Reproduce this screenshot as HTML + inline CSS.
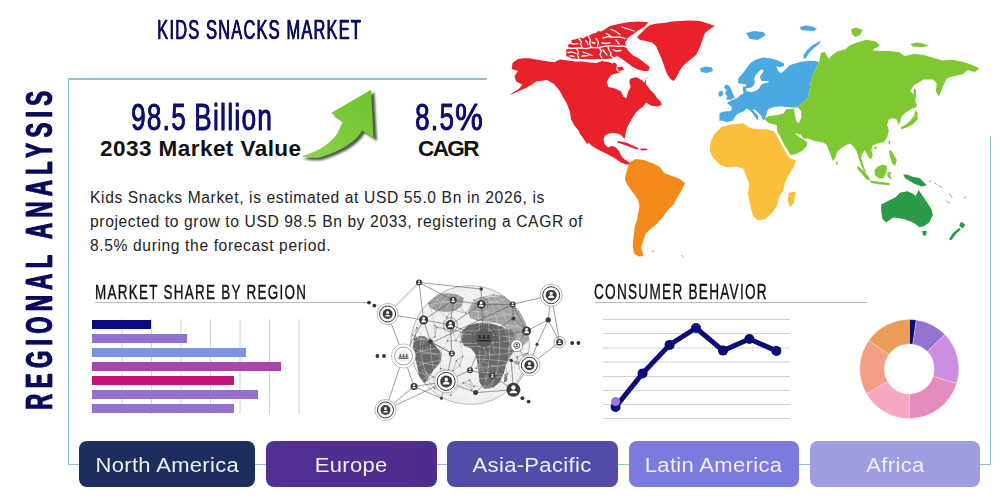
<!DOCTYPE html>
<html><head><meta charset="utf-8">
<style>
*{margin:0;padding:0;box-sizing:border-box}
html,body{width:1000px;height:500px;background:#fff;overflow:hidden;font-family:"Liberation Sans",sans-serif}
.a{position:absolute;white-space:nowrap}
.ln{position:absolute;background:#90c2d4}
.cond{transform-origin:0 0;display:inline-block}
.btn{position:absolute;top:441px;height:46px;border-radius:8px;color:#eef0fa;font-size:20px;text-align:center;line-height:48px;letter-spacing:0.3px}
.btn span{display:inline-block;transform:scaleX(1.1);transform-origin:50% 50%}
</style></head><body>

<!--MAP-->
<svg class="a" style="left:0;top:0" width="1000" height="500" id="map">
<g fill="#e8212b">
<polygon points="512.6,62.7 518.0,59.1 523.4,58.2 528.8,58.2 545.0,60.9 554.0,62.2 560.0,59.5 567.8,60.5 575.0,61.5 583.0,61.5 590.0,62.5 596.4,63.1 602.0,61.0 605.5,61.8 609.0,62.0 612.0,63.4 615.0,62.5 617.0,65.0 616.0,70.0 620.0,72.5 626.0,73.0 632.0,74.0 640.0,75.0 649.0,74.5 648.8,75.8 646.0,79.0 646.0,84.2 650.2,89.8 654.4,94.0 657.2,98.2 660.0,101.0 662.0,104.5 658.0,106.6 653.0,106.0 650.2,105.2 646.0,102.4 643.2,106.6 639.0,109.5 636.0,112.5 633.0,117.0 630.0,122.0 627.5,127.0 626.0,131.0 625.5,135.0 624.5,139.0 622.0,136.0 619.0,134.0 614.0,133.0 609.0,133.5 605.0,135.5 603.5,139.0 604.5,144.0 608.0,147.5 612.0,146.0 616.0,147.5 619.0,151.0 621.0,155.5 624.0,159.0 628.0,161.5 631.0,164.5 626.0,164.5 621.0,162.5 616.0,159.0 610.0,155.5 604.0,152.5 598.0,149.5 592.0,146.0 587.0,141.0 582.0,135.0 578.0,130.0 574.0,125.0 571.0,119.0 570.0,112.0 567.0,104.0 563.0,97.0 559.4,90.6 554.0,84.0 547.0,80.0 540.0,81.0 536.0,81.6 530.6,85.2 526.0,88.0 520.0,90.5 514.0,93.2 509.5,95.2 513.0,92.6 518.5,89.2 521.0,86.5 522.0,84.5 516.2,81.6 514.4,76.2 518.0,71.0 511.7,69.0"/>
<polygon points="579.0,130.0 582.0,133.0 586.0,139.0 589.0,143.0 587.0,144.0 583.0,138.0 580.0,134.0"/>
<polygon points="618.0,141.0 626.0,142.5 634.0,146.0 639.0,148.5 637.0,149.5 630.0,147.0 622.0,144.0 617.0,142.5"/>
<polygon points="640.0,148.5 646.0,148.5 648.0,150.0 641.0,150.5"/>
</g>
<g fill="#fff">
<polygon points="611.0,75.0 606.8,81.4 608.2,87.0 615.2,88.4 620.8,91.2 623.6,96.8 626.4,98.2 627.8,92.6 630.6,87.0 629.2,81.4 630.6,78.6 636.2,77.2 641.8,80.0 644.6,82.8 646.0,78.6 649.5,75.5 648.0,73.5 642.0,73.0 636.0,72.5 630.0,71.0 626.0,70.0 623.0,72.0 618.0,73.0"/>
</g>
<g fill="#e8212b">
<polygon points="637.0,37.0 641.0,33.0 646.0,28.0 650.0,25.0 657.0,23.5 664.0,23.0 672.0,21.5 680.0,21.0 690.0,20.5 700.0,21.0 708.0,23.5 715.0,26.0 710.0,29.0 705.0,33.0 703.0,38.0 701.0,44.0 699.0,49.0 696.0,55.0 691.0,59.0 686.0,63.0 682.0,67.0 679.0,72.0 676.0,78.0 673.5,81.0 670.5,79.0 667.0,74.0 664.5,67.0 662.0,60.0 659.0,53.0 656.0,46.0 652.0,42.5 646.0,41.0 640.0,40.0"/>
<polygon points="566.3,50.0 568.5,47.0 567.5,45.0 570.0,44.0 572.0,41.5 571.0,40.0 575.0,39.5 580.0,37.5 583.0,38.5 586.0,36.5 590.0,35.0 593.0,33.5 596.0,33.0 598.0,31.0 601.0,31.5 604.0,30.0 606.0,28.5 610.0,26.0 618.5,24.1 627.6,22.2 638.0,21.5 648.4,22.2 644.5,26.7 638.0,30.6 632.8,34.5 627.6,38.0 625.0,43.0 627.6,50.0 632.8,55.3 638.0,57.9 643.2,61.8 649.7,67.0 648.4,70.9 643.2,70.9 638.0,69.6 632.8,67.0 627.6,63.1 622.4,59.2 617.2,56.0 612.0,58.5 606.0,59.0 598.0,59.0 590.0,59.3 580.0,59.0 572.0,58.5 566.3,56.0"/>
<polygon points="617.0,67.5 622.0,66.5 624.0,69.5 619.0,71.5"/>
</g>
<g fill="#f48a1b">
<polygon points="630.0,162.0 636.0,159.0 644.0,160.0 652.0,163.0 660.0,167.0 664.0,173.0 672.0,176.0 680.0,179.0 685.0,183.0 682.0,190.0 678.0,196.0 674.0,204.0 668.0,210.0 662.0,218.0 656.0,224.5 650.0,229.6 646.0,233.2 643.6,239.2 641.2,247.6 643.6,256.0 638.8,256.6 634.0,253.6 632.8,246.4 633.4,238.0 634.6,227.2 637.0,220.0 638.0,214.0 639.5,206.0 638.0,200.0 634.0,194.0 628.0,186.0 625.0,180.0 625.5,175.0 627.0,170.0 628.5,165.0"/>
</g>
<g fill="#4aa9e1">
<polygon points="719.5,121.0 719.5,113.0 724.0,111.5 731.0,111.0 732.0,107.0 727.0,103.2 730.0,101.0 737.5,98.0 740.5,95.0 743.5,93.5 743.0,90.0 742.7,86.7 745.5,86.5 746.5,84.5 742.0,84.0 738.2,83.2 738.2,78.4 743.8,72.0 747.8,66.4 751.0,62.4 755.5,59.7 763.0,57.5 770.5,58.2 778.0,60.5 784.0,63.5 784.0,65.7 781.0,67.2 776.5,66.5 778.0,71.0 781.0,73.2 785.5,69.5 790.0,65.0 795.0,63.5 801.0,61.8 810.0,60.7 816.0,61.0 819.0,62.5 815.2,70.1 811.4,77.7 809.5,91.0 807.6,99.0 806.2,99.2 802.0,103.4 797.8,106.2 792.2,107.6 786.0,107.0 781.0,106.2 774.0,106.9 768.4,109.0 767.0,112.0 766.7,113.0 766.0,116.0 764.5,119.0 763.0,120.5 761.5,116.0 758.5,113.0 755.5,110.0 752.5,109.2 755.5,113.0 758.5,116.0 757.7,120.5 755.5,117.5 752.5,113.0 749.5,110.0 746.5,108.5 743.5,111.5 739.0,113.0 735.2,116.0 733.0,120.5 727.0,122.0 721.0,120.5"/>
<polygon points="725.5,84.5 729.0,85.5 731.0,89.0 732.5,93.0 734.5,97.5 731.0,99.8 726.0,99.8 727.5,96.5 725.0,93.5 726.5,90.0 724.0,87.5"/>
<polygon points="719.0,91.5 722.5,90.8 723.5,94.5 720.0,97.0 718.3,95.0"/>
<polygon points="700.0,68.0 706.0,66.5 712.0,67.5 713.0,71.0 707.0,73.0 701.0,72.0"/>
<polygon points="746.0,33.0 754.0,31.0 763.0,32.0 766.0,35.0 758.0,40.0 750.0,39.0"/>
<polygon points="803.0,58.5 804.0,54.0 808.0,49.0 813.0,45.0 818.0,42.0 821.0,41.0 819.0,44.0 814.0,48.0 809.0,53.0 806.0,58.0"/>
<polygon points="800.0,27.0 806.0,25.5 812.0,26.5 817.0,28.5 814.0,31.0 806.0,30.5 801.0,30.0"/>
</g>
<g fill="#fff">
<polygon points="761.4,69.2 763.8,70.4 762.2,73.6 760.0,76.0 760.6,79.2 761.4,81.0 768.6,81.0 768.6,82.2 763.0,83.5 760.6,85.6 759.0,88.8 755.0,91.2 751.0,92.0 747.0,91.2 745.5,89.0 748.0,88.0 751.5,87.5 753.5,85.6 755.0,82.4 754.2,79.2 755.0,76.0 758.0,72.5"/>
</g>
<g fill="#fbc03b">
<polygon points="721.6,126.8 731.2,124.4 743.2,123.2 750.4,128.0 757.6,129.2 767.2,129.2 774.0,131.4 776.0,134.2 779.6,141.2 785.2,151.0 789.4,158.0 796.0,160.4 793.6,167.6 788.8,174.8 785.2,182.0 782.8,191.6 779.2,196.4 776.8,206.0 772.0,213.2 764.8,219.2 757.6,220.4 752.8,215.6 750.4,206.0 748.0,194.0 749.2,184.4 745.6,174.8 743.2,168.8 736.0,166.4 726.4,167.6 719.2,164.0 713.2,158.0 709.6,150.8 710.8,141.2 714.4,134.0"/>
<polygon points="788.8,192.8 796.0,191.6 793.6,203.6 790.0,207.2 787.6,201.2"/>
</g>
<g fill="#80c833">
<polygon points="819.0,62.5 820.9,53.0 824.7,52.0 828.5,58.7 832.3,55.0 838.0,51.1 845.6,49.2 849.4,45.4 857.0,42.6 866.5,39.7 876.0,41.6 879.8,45.4 872.2,50.2 879.8,51.1 889.3,51.1 898.8,52.0 904.5,55.9 914.0,54.0 923.5,54.9 933.0,57.8 942.5,60.6 952.0,59.7 961.5,61.6 971.0,64.4 979.6,68.2 974.8,72.0 967.2,70.1 963.4,73.9 955.8,75.8 948.2,77.7 946.3,79.6 942.5,87.2 938.7,96.7 935.9,91.0 936.8,83.4 933.0,79.6 923.5,79.6 914.0,85.3 910.2,91.0 914.0,94.8 915.9,102.4 914.0,108.0 909.6,110.0 904.8,113.2 901.6,116.4 900.0,122.8 898.4,124.4 896.8,119.6 892.0,118.0 888.8,119.6 887.2,124.4 888.8,130.8 887.2,137.2 884.0,142.0 877.6,143.6 872.8,145.2 871.2,150.0 872.8,154.8 871.2,159.6 868.0,156.4 864.8,150.0 862.0,154.0 861.0,158.0 863.2,164.4 864.8,169.2 866.4,172.4 864.0,171.0 861.0,165.0 859.2,160.0 856.8,151.6 853.6,146.8 850.4,143.6 845.6,145.2 840.8,148.4 837.6,151.6 835.2,158.0 832.8,161.2 831.2,156.4 828.8,150.0 826.4,144.4 823.0,142.6 816.0,141.2 807.6,138.4 803.4,138.4 800.6,134.2 797.8,134.2 795.0,132.8 797.8,136.0 803.4,139.5 807.6,142.6 806.2,146.8 802.0,151.0 796.4,153.8 790.8,155.2 788.0,151.0 783.8,144.0 779.6,135.6 777.5,132.0 776.8,128.6 776.8,125.0 768.4,123.0 764.2,118.8 768.4,116.0 776.8,115.3 783.8,113.2 786.6,109.0 792.2,109.0 793.6,108.0 797.8,106.2 802.0,103.4 806.2,99.2 807.6,99.0 809.5,91.0 811.4,77.7 815.2,70.1"/>
<polygon points="916.0,110.0 917.6,113.0 917.6,119.6 912.8,124.4 906.4,127.6 901.6,129.2 900.5,127.5 905.0,125.0 910.0,121.0 914.0,116.0 915.0,112.0"/>
<polygon points="914.0,103.0 917.0,104.0 916.0,108.0 913.0,107.0"/>
<polygon points="914.0,88.0 916.0,90.0 916.0,99.0 913.5,97.0"/>
<polygon points="851.3,29.0 856.0,27.4 862.7,30.0 860.0,35.0 855.0,36.9 852.0,34.0"/>
<polygon points="910.2,44.0 917.0,42.6 923.0,43.5 929.2,46.0 921.0,47.3 913.0,46.5"/>
<polygon points="874.4,170.0 878.0,166.5 883.0,164.4 887.2,166.0 886.5,172.0 883.0,178.8 878.0,178.0 875.0,175.0"/>
<polygon points="856.8,166.0 860.0,167.5 865.0,172.0 869.6,178.0 869.6,180.4 866.0,179.0 861.0,173.0 857.5,169.0"/>
<polygon points="869.6,180.4 878.0,181.5 886.0,182.5 890.4,183.5 889.0,185.2 880.0,184.5 871.0,183.0"/>
<polygon points="888.8,150.0 891.5,151.0 894.0,155.0 896.8,160.0 895.0,166.0 892.0,163.0 890.0,157.0"/>
<polygon points="887.2,172.4 892.0,172.0 890.0,175.0 892.0,180.4 889.0,178.0 887.5,176.0"/>
<polygon points="888.8,140.4 890.4,141.0 890.0,144.4 888.6,143.5"/>
<polygon points="874.4,146.8 876.8,146.8 876.5,149.0 874.4,149.0"/>
<polygon points="836.0,161.2 837.6,161.8 837.6,165.0 836.2,164.8"/>
</g>
<g fill="#2b9a49">
<polygon points="881.2,204.4 888.4,200.8 895.6,197.2 900.4,192.4 907.6,191.2 912.4,193.6 916.0,196.0 918.4,190.0 922.0,194.8 926.8,202.0 931.6,209.2 932.8,215.2 929.2,222.4 924.4,226.0 919.6,227.2 914.8,223.6 910.0,221.2 902.8,218.8 893.2,217.6 886.0,222.4 882.4,218.8 881.2,211.6"/>
<polygon points="922.0,230.8 926.8,231.0 926.0,235.6 923.0,235.6"/>
<polygon points="903.2,174.5 908.0,174.8 912.4,176.8 919.6,178.0 926.8,185.2 922.0,186.4 914.8,184.0 908.8,180.4 905.0,178.0"/>
<polygon points="960.4,222.4 962.0,222.0 965.2,224.8 962.8,228.4 959.2,226.0"/>
<polygon points="959.0,228.0 961.0,229.0 956.0,234.0 951.0,240.4 949.0,239.0 953.0,233.0"/>
</g>
<g fill="#fff">
<polygon points="793.6,108.5 798.0,107.6 801.0,111.0 801.5,117.0 799.0,123.0 796.0,121.0 795.0,115.0"/>
</g>
<g fill="none" stroke="#6b7f70" stroke-width="0.8" stroke-linecap="round" opacity="0.85">
<polyline points="929.0,182.0 931.0,180.5"/>
<polyline points="934.5,183.0 937.0,184.5"/>
<polyline points="939.0,185.5 942.0,187.5"/>
<polyline points="949.5,193.5 952.0,197.5"/>
<polyline points="946.5,201.0 949.5,203.5"/>
<polyline points="964.0,198.0 965.5,197.0"/>
<polyline points="652.0,251.2 654.0,251.2"/>
<polyline points="681.5,255.5 683.0,256.5"/>
</g>
<g fill="none" stroke="#fff" stroke-width="1.3" stroke-linecap="round" stroke-linejoin="round">
<polyline points="565.0,47.5 572.0,48.5 580.0,47.8 586.0,48.6 592.0,47.4 598.0,47.8 604.0,46.4 612.0,45.6 618.0,46.4 622.0,45.8 627.0,47.0"/>
<polyline points="603.0,37.8 608.0,36.6 614.0,37.4 620.0,37.0 625.0,38.6"/>
<polyline points="576.5,48.5 578.5,52.0 577.5,55.0 579.0,58.5"/>
<polyline points="599.0,47.5 601.5,51.0 600.0,54.5 602.0,58.0"/>
<polyline points="608.0,47.0 609.0,50.0 611.0,53.0 610.5,55.5 614.0,58.0"/>
<polyline points="579.0,38.5 581.5,42.0 580.5,44.5 582.0,47.0"/>
<polyline points="588.5,36.0 590.5,40.0 589.5,43.0 591.0,47.0"/>
<polyline points="596.0,38.5 598.5,42.0 597.5,46.5"/>
<polyline points="611.0,29.5 615.0,31.0 620.0,34.5"/>
<polyline points="606.0,33.5 609.0,35.0 612.0,37.5"/>
<polyline points="622.0,27.0 628.0,29.0 634.0,31.0"/>
<polyline points="568.0,52.5 572.0,52.0 576.0,53.5"/>
<polyline points="583.0,52.0 587.0,53.5 592.0,55.5"/>
<polyline points="603.0,50.0 605.0,52.5 607.0,55.0"/>
<polyline points="585.5,40.5 587.0,42.0 588.0,44.5"/>
<polyline points="616.0,40.0 617.5,42.0 619.0,44.0"/>
<polyline points="571.0,43.5 575.0,44.2 578.0,43.5"/>
<polyline points="592.0,42.5 595.0,43.2"/>
<polyline points="602.0,42.8 606.0,43.5 610.0,42.8"/>
<polyline points="613.0,49.5 616.0,51.0 621.0,50.5"/>
<polyline points="582.0,56.0 588.0,55.6"/>
<polyline points="570.0,55.8 574.0,56.4"/>
</g>
</svg>
<!--/MAP-->
<!-- frame lines -->
<div class="ln" style="left:68px;top:78.3px;width:419px;height:1.3px"></div>
<div class="ln" style="left:68px;top:79px;width:1px;height:386px"></div>
<div class="ln" style="left:68px;top:464px;width:923px;height:1px"></div>
<div class="ln" style="left:990px;top:136px;width:1px;height:329px"></div>

<!-- title -->
<div class="a" id="title" style="left:157px;top:13px;font-size:28.4px;letter-spacing:2px;color:#0e0e5e;-webkit-text-stroke:0.3px #0e0e5e;text-shadow:0.5px 0 0 #0e0e5e,1px 0 0 #0e0e5e"><span class="cond" style="transform:scaleX(0.58)">KIDS SNACKS MARKET</span></div>

<!-- vertical text -->
<div class="a" id="vtext" style="left:19px;top:410px;font-size:37px;font-weight:bold;color:#0a0a5c;letter-spacing:9px;-webkit-text-stroke:0.8px #0a0a5c;text-shadow:1.4px 0 0 #0a0a5c;transform-origin:0 0;transform:rotate(-90deg)"><span class="cond" style="transform:scaleX(0.6)">REGIONAL ANALYSIS</span></div>

<!-- stats -->
<div class="a" id="big1" style="left:131px;top:97px;font-size:37px;color:#0e0e6e;letter-spacing:2px;word-spacing:-2px;-webkit-text-stroke:0.8px #0e0e6e;text-shadow:0.6px 0 0 #0e0e6e"><span class="cond" style="transform:scaleX(0.70)">98.5 Billion</span></div>
<div class="a" id="sub1" style="left:100px;top:136px;font-size:22.5px;font-weight:bold;color:#111;letter-spacing:0.45px">2033 Market Value</div>
<div class="a" id="big2" style="left:415px;top:97px;font-size:37px;color:#0e0e6e;letter-spacing:2px;-webkit-text-stroke:0.8px #0e0e6e;text-shadow:0.6px 0 0 #0e0e6e"><span class="cond" style="transform:scaleX(0.70)">8.5<span style="display:inline-block;transform-origin:0 0;transform:scaleX(1.2)">%</span></span></div>
<div class="a" id="sub2" style="left:418px;top:136px;font-size:22.5px;font-weight:bold;color:#111;letter-spacing:-1.6px">CAGR</div>

<!-- arrow -->
<svg class="a" style="left:0;top:0" width="1000" height="500" id="arrow">
  <defs><filter id="ab" x="-20%" y="-20%" width="140%" height="140%"><feGaussianBlur stdDeviation="0.9"/></filter>
  <linearGradient id="ag" x1="0" y1="1" x2="1" y2="0"><stop offset="0" stop-color="#8fd24e"/><stop offset="1" stop-color="#6dc22c"/></linearGradient></defs>
  <path d="M303,158.7 Q327,152.5 339.5,136.5 L345.5,123.5 L334,115.5 L374.5,92.3 L377,141 L365,133.1 Q355,150.5 321,160.3 Q310,160.5 303,158.7 Z" fill="#4f5d45" filter="url(#ab)"/>
  <path d="M301.4,156.2 Q325,150 337,134 L343,121 L331,113 L371,89.8 L373.4,137.8 L362.2,130.6 Q352,148 319,157.8 Q308,158 301.4,156.2 Z" fill="url(#ag)"/>
</svg>

<!-- paragraph -->
<div class="a" id="para" style="left:90px;top:186px;font-size:15.6px;line-height:23.8px;color:#222;letter-spacing:0.63px">Kids Snacks Market, is estimated at USD 55.0 Bn in 2026, is<br>projected to grow to USD 98.5 Bn by 2033, registering a CAGR of<br>8.5% during the forecast period.</div>

<!-- section headings -->
<div class="a" id="h1" style="left:95px;top:280px;font-size:21px;color:#111;letter-spacing:2px;-webkit-text-stroke:0.4px #111"><span class="cond" style="transform:scaleX(0.64)">MARKET SHARE BY REGION</span></div>
<div class="ln" style="left:95px;top:302px;width:273px;height:1px;background:#9cc8d4"></div>
<div class="a" id="h2" style="left:594px;top:279px;font-size:22px;color:#111;letter-spacing:2px;-webkit-text-stroke:0.4px #111"><span class="cond" style="transform:scaleX(0.62)">CONSUMER BEHAVIOR</span></div>
<div class="ln" style="left:595px;top:302px;width:272px;height:1px;background:#9cc8d4"></div>

<!-- bar chart -->
<svg class="a" style="left:0;top:0" width="1000" height="500" id="bars">
  <g stroke="#d4d4d8" stroke-width="1">
    <line x1="122" y1="319" x2="122" y2="414"/><line x1="151.5" y1="319" x2="151.5" y2="414"/>
    <line x1="181" y1="319" x2="181" y2="414"/><line x1="210.5" y1="319" x2="210.5" y2="414"/>
    <line x1="240" y1="319" x2="240" y2="414"/><line x1="269.5" y1="319" x2="269.5" y2="414"/>
    <line x1="299" y1="319" x2="299" y2="414"/>
  </g>
  <rect x="92" y="320" width="59" height="9" fill="#0b0b80"/>
  <rect x="92" y="334" width="95" height="9" fill="#9471cf"/>
  <rect x="92" y="348" width="154" height="9" fill="#7d94e0"/>
  <rect x="92" y="362" width="189" height="9" fill="#a947a8"/>
  <rect x="92" y="376" width="142" height="9" fill="#c1147a"/>
  <rect x="92" y="390" width="166" height="9" fill="#9471cf"/>
  <rect x="92" y="404" width="142" height="9" fill="#9471cf"/>
</svg>

<!--GLOBE-->
<svg class="a" style="left:0;top:0" width="1000" height="500" id="globe">
<defs><clipPath id="gc"><circle cx="470.0" cy="345.0" r="59.5"/></clipPath></defs>
<circle cx="470" cy="345" r="59.5" fill="#f2f2f2" stroke="#b8b8b8" stroke-width="1"/>
<g clip-path="url(#gc)">
<polygon points="426.0,300.0 434.0,295.0 445.0,293.0 456.0,294.0 464.0,298.0 462.0,306.0 455.0,311.0 446.0,312.0 437.0,311.0 430.0,308.0" fill="#9a9a9a"/>
<polygon points="468.0,312.0 472.0,304.0 480.0,299.0 490.0,297.0 500.0,296.6 510.0,297.5 518.0,300.0 524.0,306.0 528.0,314.0 530.0,325.0 529.0,340.0 524.0,345.0 516.0,343.0 512.0,336.0 506.0,328.0 500.0,324.0 490.0,321.5 478.0,321.0 470.0,318.0" fill="#a2a2a2"/>
<polygon points="414.0,338.0 420.0,336.0 425.2,336.6 433.6,343.6 442.0,353.4 440.6,361.8 433.6,370.2 428.0,378.6 423.8,384.2 419.6,378.6 416.8,364.6 412.6,350.6" fill="#6a6a6a"/>
<polygon points="462.0,330.7 468.6,325.2 477.4,323.0 488.4,323.0 497.2,325.2 503.8,327.4 506.0,334.0 510.4,342.8 514.8,350.5 510.4,356.0 506.0,364.8 503.8,373.6 499.4,382.4 492.8,388.0 484.0,389.0 479.6,382.4 478.5,373.6 477.4,362.6 475.2,353.8 470.8,348.3 464.2,346.1 460.9,340.6" fill="#686868"/>
<polygon points="504.0,328.0 512.0,330.0 516.0,338.0 513.0,345.0 508.0,341.0 505.0,335.0" fill="#7a7a7a"/>
<polygon points="504.5,374.0 507.5,373.6 507.0,381.0 504.0,382.4" fill="#777"/>
<ellipse cx="470" cy="297.4" rx="35.7" ry="6.4" fill="none" stroke="#e0e0e0" stroke-width="0.4"/>
<ellipse cx="470" cy="309.3" rx="47.6" ry="8.6" fill="none" stroke="#e0e0e0" stroke-width="0.4"/>
<ellipse cx="470" cy="321.2" rx="54.5" ry="9.8" fill="none" stroke="#e0e0e0" stroke-width="0.4"/>
<ellipse cx="470" cy="333.1" rx="58.3" ry="10.5" fill="none" stroke="#e0e0e0" stroke-width="0.4"/>
<ellipse cx="470" cy="345.0" rx="59.5" ry="10.7" fill="none" stroke="#e0e0e0" stroke-width="0.4"/>
<ellipse cx="470" cy="356.9" rx="58.3" ry="10.5" fill="none" stroke="#e0e0e0" stroke-width="0.4"/>
<ellipse cx="470" cy="368.8" rx="54.5" ry="9.8" fill="none" stroke="#e0e0e0" stroke-width="0.4"/>
<ellipse cx="470" cy="380.7" rx="47.6" ry="8.6" fill="none" stroke="#e0e0e0" stroke-width="0.4"/>
<ellipse cx="470" cy="392.6" rx="35.7" ry="6.4" fill="none" stroke="#e0e0e0" stroke-width="0.4"/>
<ellipse cx="470" cy="345" rx="9.9" ry="59.5" fill="none" stroke="#e0e0e0" stroke-width="0.4"/>
<ellipse cx="470" cy="345" rx="19.8" ry="59.5" fill="none" stroke="#e0e0e0" stroke-width="0.4"/>
<ellipse cx="470" cy="345" rx="29.8" ry="59.5" fill="none" stroke="#e0e0e0" stroke-width="0.4"/>
<ellipse cx="470" cy="345" rx="39.7" ry="59.5" fill="none" stroke="#e0e0e0" stroke-width="0.4"/>
<ellipse cx="470" cy="345" rx="49.6" ry="59.5" fill="none" stroke="#e0e0e0" stroke-width="0.4"/>
<line x1="459.7" y1="365.7" x2="456.3" y2="360.7" stroke="#a8a8a8" stroke-width="0.4"/>
<line x1="459.7" y1="365.7" x2="453.2" y2="370.6" stroke="#a8a8a8" stroke-width="0.4"/>
<line x1="459.7" y1="365.7" x2="462.7" y2="356.5" stroke="#a8a8a8" stroke-width="0.4"/>
<line x1="460.7" y1="332.0" x2="463.8" y2="332.6" stroke="#a8a8a8" stroke-width="0.4"/>
<line x1="460.7" y1="332.0" x2="452.7" y2="329.9" stroke="#a8a8a8" stroke-width="0.4"/>
<line x1="460.7" y1="332.0" x2="455.8" y2="340.6" stroke="#a8a8a8" stroke-width="0.4"/>
<line x1="434.9" y1="337.0" x2="436.8" y2="327.5" stroke="#a8a8a8" stroke-width="0.4"/>
<line x1="434.9" y1="337.0" x2="434.8" y2="325.7" stroke="#a8a8a8" stroke-width="0.4"/>
<line x1="434.9" y1="337.0" x2="423.5" y2="340.5" stroke="#a8a8a8" stroke-width="0.4"/>
<line x1="509.6" y1="360.1" x2="508.1" y2="354.1" stroke="#a8a8a8" stroke-width="0.4"/>
<line x1="509.6" y1="360.1" x2="504.9" y2="364.3" stroke="#a8a8a8" stroke-width="0.4"/>
<line x1="509.6" y1="360.1" x2="516.3" y2="363.5" stroke="#a8a8a8" stroke-width="0.4"/>
<line x1="508.1" y1="354.1" x2="510.0" y2="350.7" stroke="#a8a8a8" stroke-width="0.4"/>
<line x1="508.1" y1="354.1" x2="509.6" y2="360.1" stroke="#a8a8a8" stroke-width="0.4"/>
<line x1="508.1" y1="354.1" x2="508.5" y2="346.0" stroke="#a8a8a8" stroke-width="0.4"/>
<line x1="486.2" y1="352.6" x2="486.3" y2="354.8" stroke="#a8a8a8" stroke-width="0.4"/>
<line x1="486.2" y1="352.6" x2="484.3" y2="350.9" stroke="#a8a8a8" stroke-width="0.4"/>
<line x1="486.2" y1="352.6" x2="495.1" y2="354.9" stroke="#a8a8a8" stroke-width="0.4"/>
<line x1="421.9" y1="369.7" x2="424.9" y2="370.5" stroke="#a8a8a8" stroke-width="0.4"/>
<line x1="421.9" y1="369.7" x2="427.0" y2="380.1" stroke="#a8a8a8" stroke-width="0.4"/>
<line x1="421.9" y1="369.7" x2="433.3" y2="377.0" stroke="#a8a8a8" stroke-width="0.4"/>
<line x1="490.0" y1="364.7" x2="490.4" y2="366.5" stroke="#a8a8a8" stroke-width="0.4"/>
<line x1="490.0" y1="364.7" x2="482.6" y2="361.1" stroke="#a8a8a8" stroke-width="0.4"/>
<line x1="490.0" y1="364.7" x2="498.8" y2="366.4" stroke="#a8a8a8" stroke-width="0.4"/>
<line x1="429.7" y1="303.4" x2="434.3" y2="297.7" stroke="#a8a8a8" stroke-width="0.4"/>
<line x1="429.7" y1="303.4" x2="446.7" y2="317.2" stroke="#a8a8a8" stroke-width="0.4"/>
<line x1="429.7" y1="303.4" x2="434.8" y2="325.7" stroke="#a8a8a8" stroke-width="0.4"/>
<line x1="436.8" y1="327.5" x2="434.8" y2="325.7" stroke="#a8a8a8" stroke-width="0.4"/>
<line x1="436.8" y1="327.5" x2="444.2" y2="328.8" stroke="#a8a8a8" stroke-width="0.4"/>
<line x1="436.8" y1="327.5" x2="434.9" y2="337.0" stroke="#a8a8a8" stroke-width="0.4"/>
<line x1="482.7" y1="343.1" x2="490.3" y2="342.5" stroke="#a8a8a8" stroke-width="0.4"/>
<line x1="482.7" y1="343.1" x2="484.3" y2="350.9" stroke="#a8a8a8" stroke-width="0.4"/>
<line x1="482.7" y1="343.1" x2="486.2" y2="352.6" stroke="#a8a8a8" stroke-width="0.4"/>
<line x1="490.2" y1="320.1" x2="493.6" y2="321.5" stroke="#a8a8a8" stroke-width="0.4"/>
<line x1="490.2" y1="320.1" x2="483.9" y2="316.4" stroke="#a8a8a8" stroke-width="0.4"/>
<line x1="490.2" y1="320.1" x2="481.4" y2="324.0" stroke="#a8a8a8" stroke-width="0.4"/>
<line x1="482.6" y1="361.1" x2="480.0" y2="362.7" stroke="#a8a8a8" stroke-width="0.4"/>
<line x1="482.6" y1="361.1" x2="486.3" y2="354.8" stroke="#a8a8a8" stroke-width="0.4"/>
<line x1="482.6" y1="361.1" x2="490.0" y2="364.7" stroke="#a8a8a8" stroke-width="0.4"/>
<line x1="450.7" y1="395.2" x2="452.1" y2="386.9" stroke="#a8a8a8" stroke-width="0.4"/>
<line x1="450.7" y1="395.2" x2="434.7" y2="388.4" stroke="#a8a8a8" stroke-width="0.4"/>
<line x1="450.7" y1="395.2" x2="463.2" y2="382.7" stroke="#a8a8a8" stroke-width="0.4"/>
<line x1="489.1" y1="386.1" x2="494.0" y2="379.0" stroke="#a8a8a8" stroke-width="0.4"/>
<line x1="489.1" y1="386.1" x2="474.3" y2="386.2" stroke="#a8a8a8" stroke-width="0.4"/>
<line x1="489.1" y1="386.1" x2="482.8" y2="370.6" stroke="#a8a8a8" stroke-width="0.4"/>
<line x1="446.7" y1="317.2" x2="453.5" y2="309.8" stroke="#a8a8a8" stroke-width="0.4"/>
<line x1="446.7" y1="317.2" x2="444.2" y2="328.8" stroke="#a8a8a8" stroke-width="0.4"/>
<line x1="446.7" y1="317.2" x2="452.7" y2="329.9" stroke="#a8a8a8" stroke-width="0.4"/>
<line x1="455.8" y1="340.6" x2="460.6" y2="342.4" stroke="#a8a8a8" stroke-width="0.4"/>
<line x1="455.8" y1="340.6" x2="447.6" y2="341.0" stroke="#a8a8a8" stroke-width="0.4"/>
<line x1="455.8" y1="340.6" x2="460.7" y2="332.0" stroke="#a8a8a8" stroke-width="0.4"/>
<line x1="495.1" y1="354.9" x2="486.3" y2="354.8" stroke="#a8a8a8" stroke-width="0.4"/>
<line x1="495.1" y1="354.9" x2="486.2" y2="352.6" stroke="#a8a8a8" stroke-width="0.4"/>
<line x1="495.1" y1="354.9" x2="493.1" y2="345.0" stroke="#a8a8a8" stroke-width="0.4"/>
<line x1="453.5" y1="309.8" x2="454.5" y2="301.8" stroke="#a8a8a8" stroke-width="0.4"/>
<line x1="453.5" y1="309.8" x2="446.7" y2="317.2" stroke="#a8a8a8" stroke-width="0.4"/>
<line x1="453.5" y1="309.8" x2="465.9" y2="313.3" stroke="#a8a8a8" stroke-width="0.4"/>
<line x1="452.1" y1="386.9" x2="450.7" y2="395.2" stroke="#a8a8a8" stroke-width="0.4"/>
<line x1="452.1" y1="386.9" x2="463.2" y2="382.7" stroke="#a8a8a8" stroke-width="0.4"/>
<line x1="452.1" y1="386.9" x2="439.5" y2="377.8" stroke="#a8a8a8" stroke-width="0.4"/>
<line x1="438.8" y1="354.4" x2="429.6" y2="353.8" stroke="#a8a8a8" stroke-width="0.4"/>
<line x1="438.8" y1="354.4" x2="440.7" y2="368.5" stroke="#a8a8a8" stroke-width="0.4"/>
<line x1="438.8" y1="354.4" x2="447.6" y2="341.0" stroke="#a8a8a8" stroke-width="0.4"/>
<line x1="483.7" y1="297.2" x2="493.3" y2="294.9" stroke="#a8a8a8" stroke-width="0.4"/>
<line x1="483.7" y1="297.2" x2="474.1" y2="300.1" stroke="#a8a8a8" stroke-width="0.4"/>
<line x1="483.7" y1="297.2" x2="501.0" y2="296.2" stroke="#a8a8a8" stroke-width="0.4"/>
<line x1="471.7" y1="390.1" x2="474.3" y2="386.2" stroke="#a8a8a8" stroke-width="0.4"/>
<line x1="471.7" y1="390.1" x2="469.5" y2="380.1" stroke="#a8a8a8" stroke-width="0.4"/>
<line x1="471.7" y1="390.1" x2="463.2" y2="382.7" stroke="#a8a8a8" stroke-width="0.4"/>
<line x1="415.0" y1="336.2" x2="412.1" y2="334.7" stroke="#a8a8a8" stroke-width="0.4"/>
<line x1="415.0" y1="336.2" x2="416.8" y2="327.9" stroke="#a8a8a8" stroke-width="0.4"/>
<line x1="415.0" y1="336.2" x2="423.5" y2="340.5" stroke="#a8a8a8" stroke-width="0.4"/>
<line x1="465.9" y1="313.3" x2="453.5" y2="309.8" stroke="#a8a8a8" stroke-width="0.4"/>
<line x1="465.9" y1="313.3" x2="474.1" y2="300.1" stroke="#a8a8a8" stroke-width="0.4"/>
<line x1="465.9" y1="313.3" x2="454.5" y2="301.8" stroke="#a8a8a8" stroke-width="0.4"/>
<line x1="490.3" y1="342.5" x2="493.1" y2="345.0" stroke="#a8a8a8" stroke-width="0.4"/>
<line x1="490.3" y1="342.5" x2="492.3" y2="338.9" stroke="#a8a8a8" stroke-width="0.4"/>
<line x1="490.3" y1="342.5" x2="482.7" y2="343.1" stroke="#a8a8a8" stroke-width="0.4"/>
<line x1="424.9" y1="370.5" x2="421.9" y2="369.7" stroke="#a8a8a8" stroke-width="0.4"/>
<line x1="424.9" y1="370.5" x2="427.0" y2="380.1" stroke="#a8a8a8" stroke-width="0.4"/>
<line x1="424.9" y1="370.5" x2="433.3" y2="377.0" stroke="#a8a8a8" stroke-width="0.4"/>
<line x1="494.0" y1="379.0" x2="489.1" y2="386.1" stroke="#a8a8a8" stroke-width="0.4"/>
<line x1="494.0" y1="379.0" x2="490.4" y2="366.5" stroke="#a8a8a8" stroke-width="0.4"/>
<line x1="494.0" y1="379.0" x2="498.8" y2="366.4" stroke="#a8a8a8" stroke-width="0.4"/>
<line x1="517.2" y1="356.9" x2="516.3" y2="363.5" stroke="#a8a8a8" stroke-width="0.4"/>
<line x1="517.2" y1="356.9" x2="518.6" y2="363.9" stroke="#a8a8a8" stroke-width="0.4"/>
<line x1="517.2" y1="356.9" x2="509.6" y2="360.1" stroke="#a8a8a8" stroke-width="0.4"/>
<line x1="474.1" y1="300.1" x2="483.7" y2="297.2" stroke="#a8a8a8" stroke-width="0.4"/>
<line x1="474.1" y1="300.1" x2="465.9" y2="313.3" stroke="#a8a8a8" stroke-width="0.4"/>
<line x1="474.1" y1="300.1" x2="483.9" y2="316.4" stroke="#a8a8a8" stroke-width="0.4"/>
<line x1="493.6" y1="321.5" x2="490.2" y2="320.1" stroke="#a8a8a8" stroke-width="0.4"/>
<line x1="493.6" y1="321.5" x2="483.9" y2="316.4" stroke="#a8a8a8" stroke-width="0.4"/>
<line x1="493.6" y1="321.5" x2="481.4" y2="324.0" stroke="#a8a8a8" stroke-width="0.4"/>
<line x1="454.5" y1="301.8" x2="453.5" y2="309.8" stroke="#a8a8a8" stroke-width="0.4"/>
<line x1="454.5" y1="301.8" x2="465.9" y2="313.3" stroke="#a8a8a8" stroke-width="0.4"/>
<line x1="454.5" y1="301.8" x2="446.7" y2="317.2" stroke="#a8a8a8" stroke-width="0.4"/>
<line x1="434.8" y1="325.7" x2="436.8" y2="327.5" stroke="#a8a8a8" stroke-width="0.4"/>
<line x1="434.8" y1="325.7" x2="444.2" y2="328.8" stroke="#a8a8a8" stroke-width="0.4"/>
<line x1="434.8" y1="325.7" x2="434.9" y2="337.0" stroke="#a8a8a8" stroke-width="0.4"/>
<line x1="501.0" y1="296.2" x2="504.5" y2="296.8" stroke="#a8a8a8" stroke-width="0.4"/>
<line x1="501.0" y1="296.2" x2="493.3" y2="294.9" stroke="#a8a8a8" stroke-width="0.4"/>
<line x1="501.0" y1="296.2" x2="507.5" y2="307.3" stroke="#a8a8a8" stroke-width="0.4"/>
<line x1="422.2" y1="352.9" x2="429.6" y2="353.8" stroke="#a8a8a8" stroke-width="0.4"/>
<line x1="422.2" y1="352.9" x2="423.5" y2="340.5" stroke="#a8a8a8" stroke-width="0.4"/>
<line x1="422.2" y1="352.9" x2="438.8" y2="354.4" stroke="#a8a8a8" stroke-width="0.4"/>
<line x1="516.3" y1="363.5" x2="518.6" y2="363.9" stroke="#a8a8a8" stroke-width="0.4"/>
<line x1="516.3" y1="363.5" x2="517.2" y2="356.9" stroke="#a8a8a8" stroke-width="0.4"/>
<line x1="516.3" y1="363.5" x2="509.6" y2="360.1" stroke="#a8a8a8" stroke-width="0.4"/>
<line x1="434.3" y1="297.7" x2="429.7" y2="303.4" stroke="#a8a8a8" stroke-width="0.4"/>
<line x1="434.3" y1="297.7" x2="454.5" y2="301.8" stroke="#a8a8a8" stroke-width="0.4"/>
<line x1="434.3" y1="297.7" x2="453.5" y2="309.8" stroke="#a8a8a8" stroke-width="0.4"/>
<line x1="483.9" y1="316.4" x2="490.2" y2="320.1" stroke="#a8a8a8" stroke-width="0.4"/>
<line x1="483.9" y1="316.4" x2="481.4" y2="324.0" stroke="#a8a8a8" stroke-width="0.4"/>
<line x1="483.9" y1="316.4" x2="493.6" y2="321.5" stroke="#a8a8a8" stroke-width="0.4"/>
<line x1="433.3" y1="377.0" x2="439.5" y2="377.8" stroke="#a8a8a8" stroke-width="0.4"/>
<line x1="433.3" y1="377.0" x2="427.0" y2="380.1" stroke="#a8a8a8" stroke-width="0.4"/>
<line x1="433.3" y1="377.0" x2="424.9" y2="370.5" stroke="#a8a8a8" stroke-width="0.4"/>
<line x1="510.0" y1="350.7" x2="508.1" y2="354.1" stroke="#a8a8a8" stroke-width="0.4"/>
<line x1="510.0" y1="350.7" x2="508.5" y2="346.0" stroke="#a8a8a8" stroke-width="0.4"/>
<line x1="510.0" y1="350.7" x2="509.6" y2="360.1" stroke="#a8a8a8" stroke-width="0.4"/>
<line x1="480.0" y1="362.7" x2="482.6" y2="361.1" stroke="#a8a8a8" stroke-width="0.4"/>
<line x1="480.0" y1="362.7" x2="476.1" y2="368.2" stroke="#a8a8a8" stroke-width="0.4"/>
<line x1="480.0" y1="362.7" x2="482.8" y2="370.6" stroke="#a8a8a8" stroke-width="0.4"/>
<line x1="518.6" y1="363.9" x2="516.3" y2="363.5" stroke="#a8a8a8" stroke-width="0.4"/>
<line x1="518.6" y1="363.9" x2="517.2" y2="356.9" stroke="#a8a8a8" stroke-width="0.4"/>
<line x1="518.6" y1="363.9" x2="509.6" y2="360.1" stroke="#a8a8a8" stroke-width="0.4"/>
<line x1="490.4" y1="366.5" x2="490.0" y2="364.7" stroke="#a8a8a8" stroke-width="0.4"/>
<line x1="490.4" y1="366.5" x2="498.8" y2="366.4" stroke="#a8a8a8" stroke-width="0.4"/>
<line x1="490.4" y1="366.5" x2="482.8" y2="370.6" stroke="#a8a8a8" stroke-width="0.4"/>
<line x1="427.0" y1="380.1" x2="433.3" y2="377.0" stroke="#a8a8a8" stroke-width="0.4"/>
<line x1="427.0" y1="380.1" x2="424.9" y2="370.5" stroke="#a8a8a8" stroke-width="0.4"/>
<line x1="427.0" y1="380.1" x2="434.7" y2="388.4" stroke="#a8a8a8" stroke-width="0.4"/>
<line x1="504.9" y1="364.3" x2="509.6" y2="360.1" stroke="#a8a8a8" stroke-width="0.4"/>
<line x1="504.9" y1="364.3" x2="498.8" y2="366.4" stroke="#a8a8a8" stroke-width="0.4"/>
<line x1="504.9" y1="364.3" x2="507.7" y2="373.7" stroke="#a8a8a8" stroke-width="0.4"/>
<line x1="416.8" y1="327.9" x2="412.1" y2="334.7" stroke="#a8a8a8" stroke-width="0.4"/>
<line x1="416.8" y1="327.9" x2="415.0" y2="336.2" stroke="#a8a8a8" stroke-width="0.4"/>
<line x1="416.8" y1="327.9" x2="423.5" y2="340.5" stroke="#a8a8a8" stroke-width="0.4"/>
<line x1="493.3" y1="294.9" x2="501.0" y2="296.2" stroke="#a8a8a8" stroke-width="0.4"/>
<line x1="493.3" y1="294.9" x2="483.7" y2="297.2" stroke="#a8a8a8" stroke-width="0.4"/>
<line x1="493.3" y1="294.9" x2="504.5" y2="296.8" stroke="#a8a8a8" stroke-width="0.4"/>
<line x1="463.2" y1="382.7" x2="469.5" y2="380.1" stroke="#a8a8a8" stroke-width="0.4"/>
<line x1="463.2" y1="382.7" x2="471.7" y2="390.1" stroke="#a8a8a8" stroke-width="0.4"/>
<line x1="463.2" y1="382.7" x2="474.3" y2="386.2" stroke="#a8a8a8" stroke-width="0.4"/>
<line x1="434.7" y1="388.4" x2="427.0" y2="380.1" stroke="#a8a8a8" stroke-width="0.4"/>
<line x1="434.7" y1="388.4" x2="433.3" y2="377.0" stroke="#a8a8a8" stroke-width="0.4"/>
<line x1="434.7" y1="388.4" x2="439.5" y2="377.8" stroke="#a8a8a8" stroke-width="0.4"/>
<line x1="492.3" y1="338.9" x2="490.3" y2="342.5" stroke="#a8a8a8" stroke-width="0.4"/>
<line x1="492.3" y1="338.9" x2="493.1" y2="345.0" stroke="#a8a8a8" stroke-width="0.4"/>
<line x1="492.3" y1="338.9" x2="482.7" y2="343.1" stroke="#a8a8a8" stroke-width="0.4"/>
<line x1="482.8" y1="370.6" x2="476.1" y2="368.2" stroke="#a8a8a8" stroke-width="0.4"/>
<line x1="482.8" y1="370.6" x2="480.0" y2="362.7" stroke="#a8a8a8" stroke-width="0.4"/>
<line x1="482.8" y1="370.6" x2="490.4" y2="366.5" stroke="#a8a8a8" stroke-width="0.4"/>
<line x1="474.3" y1="386.2" x2="471.7" y2="390.1" stroke="#a8a8a8" stroke-width="0.4"/>
<line x1="474.3" y1="386.2" x2="469.5" y2="380.1" stroke="#a8a8a8" stroke-width="0.4"/>
<line x1="474.3" y1="386.2" x2="463.2" y2="382.7" stroke="#a8a8a8" stroke-width="0.4"/>
<line x1="444.2" y1="328.8" x2="436.8" y2="327.5" stroke="#a8a8a8" stroke-width="0.4"/>
<line x1="444.2" y1="328.8" x2="452.7" y2="329.9" stroke="#a8a8a8" stroke-width="0.4"/>
<line x1="444.2" y1="328.8" x2="434.8" y2="325.7" stroke="#a8a8a8" stroke-width="0.4"/>
<line x1="508.5" y1="346.0" x2="510.0" y2="350.7" stroke="#a8a8a8" stroke-width="0.4"/>
<line x1="508.5" y1="346.0" x2="508.1" y2="354.1" stroke="#a8a8a8" stroke-width="0.4"/>
<line x1="508.5" y1="346.0" x2="517.2" y2="356.9" stroke="#a8a8a8" stroke-width="0.4"/>
<line x1="439.5" y1="377.8" x2="433.3" y2="377.0" stroke="#a8a8a8" stroke-width="0.4"/>
<line x1="439.5" y1="377.8" x2="440.7" y2="368.5" stroke="#a8a8a8" stroke-width="0.4"/>
<line x1="439.5" y1="377.8" x2="434.7" y2="388.4" stroke="#a8a8a8" stroke-width="0.4"/>
<line x1="517.3" y1="330.6" x2="512.4" y2="314.0" stroke="#a8a8a8" stroke-width="0.4"/>
<line x1="517.3" y1="330.6" x2="508.5" y2="346.0" stroke="#a8a8a8" stroke-width="0.4"/>
<line x1="517.3" y1="330.6" x2="510.0" y2="350.7" stroke="#a8a8a8" stroke-width="0.4"/>
<line x1="423.5" y1="340.5" x2="415.0" y2="336.2" stroke="#a8a8a8" stroke-width="0.4"/>
<line x1="423.5" y1="340.5" x2="434.9" y2="337.0" stroke="#a8a8a8" stroke-width="0.4"/>
<line x1="423.5" y1="340.5" x2="422.2" y2="352.9" stroke="#a8a8a8" stroke-width="0.4"/>
<line x1="463.8" y1="332.6" x2="460.7" y2="332.0" stroke="#a8a8a8" stroke-width="0.4"/>
<line x1="463.8" y1="332.6" x2="460.6" y2="342.4" stroke="#a8a8a8" stroke-width="0.4"/>
<line x1="463.8" y1="332.6" x2="455.8" y2="340.6" stroke="#a8a8a8" stroke-width="0.4"/>
<line x1="512.4" y1="314.0" x2="507.5" y2="307.3" stroke="#a8a8a8" stroke-width="0.4"/>
<line x1="512.4" y1="314.0" x2="517.3" y2="330.6" stroke="#a8a8a8" stroke-width="0.4"/>
<line x1="512.4" y1="314.0" x2="504.5" y2="296.8" stroke="#a8a8a8" stroke-width="0.4"/>
<line x1="507.5" y1="307.3" x2="512.4" y2="314.0" stroke="#a8a8a8" stroke-width="0.4"/>
<line x1="507.5" y1="307.3" x2="504.5" y2="296.8" stroke="#a8a8a8" stroke-width="0.4"/>
<line x1="507.5" y1="307.3" x2="501.0" y2="296.2" stroke="#a8a8a8" stroke-width="0.4"/>
<line x1="440.7" y1="368.5" x2="439.5" y2="377.8" stroke="#a8a8a8" stroke-width="0.4"/>
<line x1="440.7" y1="368.5" x2="433.3" y2="377.0" stroke="#a8a8a8" stroke-width="0.4"/>
<line x1="440.7" y1="368.5" x2="453.2" y2="370.6" stroke="#a8a8a8" stroke-width="0.4"/>
<line x1="507.7" y1="373.7" x2="504.9" y2="364.3" stroke="#a8a8a8" stroke-width="0.4"/>
<line x1="507.7" y1="373.7" x2="498.8" y2="366.4" stroke="#a8a8a8" stroke-width="0.4"/>
<line x1="507.7" y1="373.7" x2="516.3" y2="363.5" stroke="#a8a8a8" stroke-width="0.4"/>
<line x1="484.3" y1="350.9" x2="486.2" y2="352.6" stroke="#a8a8a8" stroke-width="0.4"/>
<line x1="484.3" y1="350.9" x2="486.3" y2="354.8" stroke="#a8a8a8" stroke-width="0.4"/>
<line x1="484.3" y1="350.9" x2="482.7" y2="343.1" stroke="#a8a8a8" stroke-width="0.4"/>
<line x1="476.1" y1="368.2" x2="480.0" y2="362.7" stroke="#a8a8a8" stroke-width="0.4"/>
<line x1="476.1" y1="368.2" x2="482.8" y2="370.6" stroke="#a8a8a8" stroke-width="0.4"/>
<line x1="476.1" y1="368.2" x2="482.6" y2="361.1" stroke="#a8a8a8" stroke-width="0.4"/>
<line x1="462.7" y1="356.5" x2="456.3" y2="360.7" stroke="#a8a8a8" stroke-width="0.4"/>
<line x1="462.7" y1="356.5" x2="459.7" y2="365.7" stroke="#a8a8a8" stroke-width="0.4"/>
<line x1="462.7" y1="356.5" x2="460.6" y2="342.4" stroke="#a8a8a8" stroke-width="0.4"/>
<line x1="493.1" y1="345.0" x2="490.3" y2="342.5" stroke="#a8a8a8" stroke-width="0.4"/>
<line x1="493.1" y1="345.0" x2="492.3" y2="338.9" stroke="#a8a8a8" stroke-width="0.4"/>
<line x1="493.1" y1="345.0" x2="495.1" y2="354.9" stroke="#a8a8a8" stroke-width="0.4"/>
<line x1="498.8" y1="366.4" x2="504.9" y2="364.3" stroke="#a8a8a8" stroke-width="0.4"/>
<line x1="498.8" y1="366.4" x2="490.4" y2="366.5" stroke="#a8a8a8" stroke-width="0.4"/>
<line x1="498.8" y1="366.4" x2="490.0" y2="364.7" stroke="#a8a8a8" stroke-width="0.4"/>
<line x1="524.9" y1="353.9" x2="527.4" y2="353.4" stroke="#a8a8a8" stroke-width="0.4"/>
<line x1="524.9" y1="353.9" x2="517.2" y2="356.9" stroke="#a8a8a8" stroke-width="0.4"/>
<line x1="524.9" y1="353.9" x2="518.6" y2="363.9" stroke="#a8a8a8" stroke-width="0.4"/>
<line x1="452.7" y1="329.9" x2="460.7" y2="332.0" stroke="#a8a8a8" stroke-width="0.4"/>
<line x1="452.7" y1="329.9" x2="444.2" y2="328.8" stroke="#a8a8a8" stroke-width="0.4"/>
<line x1="452.7" y1="329.9" x2="455.8" y2="340.6" stroke="#a8a8a8" stroke-width="0.4"/>
<line x1="469.5" y1="380.1" x2="463.2" y2="382.7" stroke="#a8a8a8" stroke-width="0.4"/>
<line x1="469.5" y1="380.1" x2="474.3" y2="386.2" stroke="#a8a8a8" stroke-width="0.4"/>
<line x1="469.5" y1="380.1" x2="471.7" y2="390.1" stroke="#a8a8a8" stroke-width="0.4"/>
<line x1="456.3" y1="360.7" x2="459.7" y2="365.7" stroke="#a8a8a8" stroke-width="0.4"/>
<line x1="456.3" y1="360.7" x2="462.7" y2="356.5" stroke="#a8a8a8" stroke-width="0.4"/>
<line x1="456.3" y1="360.7" x2="453.2" y2="370.6" stroke="#a8a8a8" stroke-width="0.4"/>
<line x1="504.5" y1="296.8" x2="501.0" y2="296.2" stroke="#a8a8a8" stroke-width="0.4"/>
<line x1="504.5" y1="296.8" x2="507.5" y2="307.3" stroke="#a8a8a8" stroke-width="0.4"/>
<line x1="504.5" y1="296.8" x2="493.3" y2="294.9" stroke="#a8a8a8" stroke-width="0.4"/>
<line x1="429.6" y1="353.8" x2="422.2" y2="352.9" stroke="#a8a8a8" stroke-width="0.4"/>
<line x1="429.6" y1="353.8" x2="438.8" y2="354.4" stroke="#a8a8a8" stroke-width="0.4"/>
<line x1="429.6" y1="353.8" x2="423.5" y2="340.5" stroke="#a8a8a8" stroke-width="0.4"/>
<line x1="486.3" y1="354.8" x2="486.2" y2="352.6" stroke="#a8a8a8" stroke-width="0.4"/>
<line x1="486.3" y1="354.8" x2="484.3" y2="350.9" stroke="#a8a8a8" stroke-width="0.4"/>
<line x1="486.3" y1="354.8" x2="482.6" y2="361.1" stroke="#a8a8a8" stroke-width="0.4"/>
<line x1="453.2" y1="370.6" x2="459.7" y2="365.7" stroke="#a8a8a8" stroke-width="0.4"/>
<line x1="453.2" y1="370.6" x2="456.3" y2="360.7" stroke="#a8a8a8" stroke-width="0.4"/>
<line x1="453.2" y1="370.6" x2="440.7" y2="368.5" stroke="#a8a8a8" stroke-width="0.4"/>
<line x1="481.4" y1="324.0" x2="483.9" y2="316.4" stroke="#a8a8a8" stroke-width="0.4"/>
<line x1="481.4" y1="324.0" x2="490.2" y2="320.1" stroke="#a8a8a8" stroke-width="0.4"/>
<line x1="481.4" y1="324.0" x2="493.6" y2="321.5" stroke="#a8a8a8" stroke-width="0.4"/>
<line x1="527.4" y1="353.4" x2="524.9" y2="353.9" stroke="#a8a8a8" stroke-width="0.4"/>
<line x1="527.4" y1="353.4" x2="517.2" y2="356.9" stroke="#a8a8a8" stroke-width="0.4"/>
<line x1="527.4" y1="353.4" x2="518.6" y2="363.9" stroke="#a8a8a8" stroke-width="0.4"/>
<line x1="447.6" y1="341.0" x2="455.8" y2="340.6" stroke="#a8a8a8" stroke-width="0.4"/>
<line x1="447.6" y1="341.0" x2="452.7" y2="329.9" stroke="#a8a8a8" stroke-width="0.4"/>
<line x1="447.6" y1="341.0" x2="444.2" y2="328.8" stroke="#a8a8a8" stroke-width="0.4"/>
<line x1="460.6" y1="342.4" x2="455.8" y2="340.6" stroke="#a8a8a8" stroke-width="0.4"/>
<line x1="460.6" y1="342.4" x2="463.8" y2="332.6" stroke="#a8a8a8" stroke-width="0.4"/>
<line x1="460.6" y1="342.4" x2="460.7" y2="332.0" stroke="#a8a8a8" stroke-width="0.4"/>
<line x1="412.1" y1="334.7" x2="415.0" y2="336.2" stroke="#a8a8a8" stroke-width="0.4"/>
<line x1="412.1" y1="334.7" x2="416.8" y2="327.9" stroke="#a8a8a8" stroke-width="0.4"/>
<line x1="412.1" y1="334.7" x2="423.5" y2="340.5" stroke="#a8a8a8" stroke-width="0.4"/>
<circle cx="459.7" cy="365.7" r="0.8" fill="#777"/>
<circle cx="460.7" cy="332.0" r="0.8" fill="#777"/>
<circle cx="434.9" cy="337.0" r="0.8" fill="#777"/>
<circle cx="509.6" cy="360.1" r="0.8" fill="#777"/>
<circle cx="508.1" cy="354.1" r="0.8" fill="#777"/>
<circle cx="486.2" cy="352.6" r="0.8" fill="#777"/>
<circle cx="421.9" cy="369.7" r="0.8" fill="#777"/>
<circle cx="490.0" cy="364.7" r="0.8" fill="#777"/>
<circle cx="429.7" cy="303.4" r="0.8" fill="#777"/>
<circle cx="436.8" cy="327.5" r="0.8" fill="#777"/>
<circle cx="482.7" cy="343.1" r="0.8" fill="#777"/>
<circle cx="490.2" cy="320.1" r="0.8" fill="#777"/>
<circle cx="482.6" cy="361.1" r="0.8" fill="#777"/>
<circle cx="450.7" cy="395.2" r="0.8" fill="#777"/>
<circle cx="489.1" cy="386.1" r="0.8" fill="#777"/>
<circle cx="446.7" cy="317.2" r="0.8" fill="#777"/>
<circle cx="455.8" cy="340.6" r="0.8" fill="#777"/>
<circle cx="495.1" cy="354.9" r="0.8" fill="#777"/>
<circle cx="453.5" cy="309.8" r="0.8" fill="#777"/>
<circle cx="452.1" cy="386.9" r="0.8" fill="#777"/>
<circle cx="438.8" cy="354.4" r="0.8" fill="#777"/>
<circle cx="483.7" cy="297.2" r="0.8" fill="#777"/>
<circle cx="471.7" cy="390.1" r="0.8" fill="#777"/>
<circle cx="415.0" cy="336.2" r="0.8" fill="#777"/>
<circle cx="465.9" cy="313.3" r="0.8" fill="#777"/>
<circle cx="490.3" cy="342.5" r="0.8" fill="#777"/>
<circle cx="424.9" cy="370.5" r="0.8" fill="#777"/>
<circle cx="494.0" cy="379.0" r="0.8" fill="#777"/>
<circle cx="517.2" cy="356.9" r="0.8" fill="#777"/>
<circle cx="474.1" cy="300.1" r="0.8" fill="#777"/>
<circle cx="493.6" cy="321.5" r="0.8" fill="#777"/>
<circle cx="454.5" cy="301.8" r="0.8" fill="#777"/>
<circle cx="434.8" cy="325.7" r="0.8" fill="#777"/>
<circle cx="501.0" cy="296.2" r="0.8" fill="#777"/>
<circle cx="422.2" cy="352.9" r="0.8" fill="#777"/>
<circle cx="516.3" cy="363.5" r="0.8" fill="#777"/>
<circle cx="434.3" cy="297.7" r="0.8" fill="#777"/>
<circle cx="483.9" cy="316.4" r="0.8" fill="#777"/>
<circle cx="433.3" cy="377.0" r="0.8" fill="#777"/>
<circle cx="510.0" cy="350.7" r="0.8" fill="#777"/>
<circle cx="480.0" cy="362.7" r="0.8" fill="#777"/>
<circle cx="518.6" cy="363.9" r="0.8" fill="#777"/>
<circle cx="490.4" cy="366.5" r="0.8" fill="#777"/>
<circle cx="427.0" cy="380.1" r="0.8" fill="#777"/>
<circle cx="504.9" cy="364.3" r="0.8" fill="#777"/>
<circle cx="416.8" cy="327.9" r="0.8" fill="#777"/>
<circle cx="493.3" cy="294.9" r="0.8" fill="#777"/>
<circle cx="463.2" cy="382.7" r="0.8" fill="#777"/>
<circle cx="434.7" cy="388.4" r="0.8" fill="#777"/>
<circle cx="492.3" cy="338.9" r="0.8" fill="#777"/>
<circle cx="482.8" cy="370.6" r="0.8" fill="#777"/>
<circle cx="474.3" cy="386.2" r="0.8" fill="#777"/>
<circle cx="444.2" cy="328.8" r="0.8" fill="#777"/>
<circle cx="508.5" cy="346.0" r="0.8" fill="#777"/>
<circle cx="439.5" cy="377.8" r="0.8" fill="#777"/>
<circle cx="517.3" cy="330.6" r="0.8" fill="#777"/>
<circle cx="423.5" cy="340.5" r="0.8" fill="#777"/>
<circle cx="463.8" cy="332.6" r="0.8" fill="#777"/>
<circle cx="512.4" cy="314.0" r="0.8" fill="#777"/>
<circle cx="507.5" cy="307.3" r="0.8" fill="#777"/>
<circle cx="440.7" cy="368.5" r="0.8" fill="#777"/>
<circle cx="507.7" cy="373.7" r="0.8" fill="#777"/>
<circle cx="484.3" cy="350.9" r="0.8" fill="#777"/>
<circle cx="476.1" cy="368.2" r="0.8" fill="#777"/>
<circle cx="462.7" cy="356.5" r="0.8" fill="#777"/>
<circle cx="493.1" cy="345.0" r="0.8" fill="#777"/>
<circle cx="498.8" cy="366.4" r="0.8" fill="#777"/>
<circle cx="524.9" cy="353.9" r="0.8" fill="#777"/>
<circle cx="452.7" cy="329.9" r="0.8" fill="#777"/>
<circle cx="469.5" cy="380.1" r="0.8" fill="#777"/>
<circle cx="456.3" cy="360.7" r="0.8" fill="#777"/>
<circle cx="504.5" cy="296.8" r="0.8" fill="#777"/>
<circle cx="429.6" cy="353.8" r="0.8" fill="#777"/>
<circle cx="486.3" cy="354.8" r="0.8" fill="#777"/>
<circle cx="453.2" cy="370.6" r="0.8" fill="#777"/>
<circle cx="481.4" cy="324.0" r="0.8" fill="#777"/>
<circle cx="527.4" cy="353.4" r="0.8" fill="#777"/>
<circle cx="447.6" cy="341.0" r="0.8" fill="#777"/>
<circle cx="460.6" cy="342.4" r="0.8" fill="#777"/>
<circle cx="412.1" cy="334.7" r="0.8" fill="#777"/>
</g>
<line x1="419" y1="282.5" x2="387.6" y2="314" stroke="#5a5a5a" stroke-width="0.6"/>
<line x1="419" y1="282.5" x2="423.6" y2="320" stroke="#5a5a5a" stroke-width="0.6"/>
<line x1="387.6" y1="314" x2="423.6" y2="320" stroke="#5a5a5a" stroke-width="0.6"/>
<line x1="387.6" y1="314" x2="403.5" y2="356" stroke="#5a5a5a" stroke-width="0.6"/>
<line x1="403.5" y1="356" x2="385.5" y2="410" stroke="#5a5a5a" stroke-width="0.6"/>
<line x1="385.5" y1="410" x2="414" y2="386.6" stroke="#5a5a5a" stroke-width="0.6"/>
<line x1="385.5" y1="410" x2="446.2" y2="381.4" stroke="#5a5a5a" stroke-width="0.6"/>
<line x1="414" y1="386.6" x2="446.2" y2="381.4" stroke="#5a5a5a" stroke-width="0.6"/>
<line x1="403.5" y1="356" x2="430.5" y2="341.6" stroke="#5a5a5a" stroke-width="0.6"/>
<line x1="423.6" y1="320" x2="430.5" y2="341.6" stroke="#5a5a5a" stroke-width="0.6"/>
<line x1="423.6" y1="320" x2="450.4" y2="324.8" stroke="#5a5a5a" stroke-width="0.6"/>
<line x1="423.6" y1="320" x2="453.2" y2="300.2" stroke="#5a5a5a" stroke-width="0.6"/>
<line x1="453.2" y1="300.2" x2="481.2" y2="304.4" stroke="#5a5a5a" stroke-width="0.6"/>
<line x1="453.2" y1="300.2" x2="450.4" y2="324.8" stroke="#5a5a5a" stroke-width="0.6"/>
<line x1="481.2" y1="304.4" x2="512.6" y2="304.4" stroke="#5a5a5a" stroke-width="0.6"/>
<line x1="481.2" y1="304.4" x2="450.4" y2="324.8" stroke="#5a5a5a" stroke-width="0.6"/>
<line x1="512.6" y1="304.4" x2="551.2" y2="295.2" stroke="#5a5a5a" stroke-width="0.6"/>
<line x1="551.2" y1="295.2" x2="548.2" y2="319.8" stroke="#5a5a5a" stroke-width="0.6"/>
<line x1="551.2" y1="295.2" x2="559.6" y2="342.2" stroke="#5a5a5a" stroke-width="0.6"/>
<line x1="548.2" y1="319.8" x2="526.6" y2="331" stroke="#5a5a5a" stroke-width="0.6"/>
<line x1="548.2" y1="319.8" x2="559.6" y2="342.2" stroke="#5a5a5a" stroke-width="0.6"/>
<line x1="548.2" y1="319.8" x2="537" y2="344.4" stroke="#5a5a5a" stroke-width="0.6"/>
<line x1="537" y1="344.4" x2="529.4" y2="365.2" stroke="#5a5a5a" stroke-width="0.6"/>
<line x1="559.6" y1="342.2" x2="529.4" y2="365.2" stroke="#5a5a5a" stroke-width="0.6"/>
<line x1="526.6" y1="331" x2="513.4" y2="318.4" stroke="#5a5a5a" stroke-width="0.6"/>
<line x1="526.6" y1="331" x2="512.6" y2="304.4" stroke="#5a5a5a" stroke-width="0.6"/>
<line x1="526.6" y1="331" x2="516.8" y2="345.6" stroke="#5a5a5a" stroke-width="0.6"/>
<line x1="516.8" y1="345.6" x2="529.4" y2="365.2" stroke="#5a5a5a" stroke-width="0.6"/>
<line x1="529.4" y1="365.2" x2="513.4" y2="389.8" stroke="#5a5a5a" stroke-width="0.6"/>
<line x1="513.4" y1="389.8" x2="492.4" y2="375.8" stroke="#5a5a5a" stroke-width="0.6"/>
<line x1="492.4" y1="375.8" x2="470" y2="370.2" stroke="#5a5a5a" stroke-width="0.6"/>
<line x1="470" y1="370.2" x2="446.2" y2="381.4" stroke="#5a5a5a" stroke-width="0.6"/>
<line x1="446.2" y1="381.4" x2="451.8" y2="353.4" stroke="#5a5a5a" stroke-width="0.6"/>
<line x1="451.8" y1="353.4" x2="430.5" y2="341.6" stroke="#5a5a5a" stroke-width="0.6"/>
<line x1="450.4" y1="324.8" x2="484" y2="338" stroke="#5a5a5a" stroke-width="0.6"/>
<line x1="481.2" y1="304.4" x2="484" y2="338" stroke="#5a5a5a" stroke-width="0.6"/>
<line x1="484" y1="338" x2="526.6" y2="331" stroke="#5a5a5a" stroke-width="0.6"/>
<line x1="484" y1="338" x2="516.8" y2="345.6" stroke="#5a5a5a" stroke-width="0.6"/>
<line x1="484" y1="338" x2="492.4" y2="375.8" stroke="#5a5a5a" stroke-width="0.6"/>
<line x1="484" y1="338" x2="470" y2="370.2" stroke="#5a5a5a" stroke-width="0.6"/>
<line x1="451.8" y1="353.4" x2="450.4" y2="324.8" stroke="#5a5a5a" stroke-width="0.6"/>
<line x1="446.2" y1="381.4" x2="475.6" y2="392.6" stroke="#5a5a5a" stroke-width="0.6"/>
<line x1="475.6" y1="392.6" x2="492.4" y2="375.8" stroke="#5a5a5a" stroke-width="0.6"/>
<line x1="513.4" y1="389.8" x2="475.6" y2="392.6" stroke="#5a5a5a" stroke-width="0.6"/>
<line x1="419" y1="282.5" x2="453.2" y2="300.2" stroke="#5a5a5a" stroke-width="0.6"/>
<line x1="419" y1="282.5" x2="481.2" y2="289" stroke="#5a5a5a" stroke-width="0.6"/>
<line x1="481.2" y1="289" x2="481.2" y2="304.4" stroke="#5a5a5a" stroke-width="0.6"/>
<line x1="403.5" y1="356" x2="423.6" y2="320" stroke="#5a5a5a" stroke-width="0.6"/>
<line x1="430.5" y1="341.6" x2="451.8" y2="353.4" stroke="#5a5a5a" stroke-width="0.6"/>
<line x1="414" y1="386.6" x2="441.4" y2="398.2" stroke="#5a5a5a" stroke-width="0.6"/>
<line x1="446.2" y1="381.4" x2="441.4" y2="398.2" stroke="#5a5a5a" stroke-width="0.6"/>
<line x1="529.4" y1="365.2" x2="511.2" y2="360.4" stroke="#5a5a5a" stroke-width="0.6"/>
<line x1="511.2" y1="360.4" x2="513.4" y2="389.8" stroke="#5a5a5a" stroke-width="0.6"/>
<line x1="512.6" y1="304.4" x2="513.4" y2="318.4" stroke="#5a5a5a" stroke-width="0.6"/>
<line x1="484" y1="338" x2="513.4" y2="318.4" stroke="#5a5a5a" stroke-width="0.6"/>
<line x1="403.5" y1="356" x2="512.6" y2="304.4" stroke="#5a5a5a" stroke-width="0.6"/>
<line x1="403.5" y1="356" x2="414" y2="386.6" stroke="#5a5a5a" stroke-width="0.6"/>
<circle cx="369" cy="302.6" r="1.9" fill="#333"/>
<circle cx="374.4" cy="305.6" r="1.9" fill="#333"/>
<circle cx="377.4" cy="356" r="1.9" fill="#333"/>
<circle cx="384" cy="356" r="1.9" fill="#333"/>
<circle cx="572.2" cy="343" r="1.9" fill="#333"/>
<circle cx="578.4" cy="343" r="1.9" fill="#333"/>
<circle cx="522.4" cy="398.2" r="1.9" fill="#333"/>
<circle cx="528.6" cy="401.6" r="1.9" fill="#333"/>
<circle cx="419" cy="282.5" r="3" fill="#3b3b3b"/>
<circle cx="419.0" cy="281.5" r="0.9" fill="#fff"/><path d="M417.4,284.0a1.7,1.4 0 0 1 3.3,0z" fill="#fff"/>
<circle cx="387.6" cy="314" r="10.5" fill="#fff" stroke="#999" stroke-width="0.7"/>
<circle cx="387.6" cy="314" r="8" fill="#fff" stroke="#333" stroke-width="1"/>
<circle cx="387.6" cy="314" r="5" fill="#3b3b3b"/>
<circle cx="387.6" cy="312.4" r="1.5" fill="#fff"/><path d="M384.9,316.5a2.8,2.3 0 0 1 5.5,0z" fill="#fff"/>
<circle cx="403.5" cy="356" r="12" fill="#fff" stroke="#aaa" stroke-width="0.7"/>
<circle cx="403.5" cy="356" r="9" fill="#fff" stroke="#888" stroke-width="0.8"/>
<circle cx="403.5" cy="356" r="6" fill="#eee"/>
<circle cx="400.3" cy="354.7" r="0.7" fill="#333"/><path d="M399.0,356.7a1.3,1.1 0 0 1 2.6,0z" fill="#333"/>
<circle cx="403.5" cy="354.7" r="0.7" fill="#333"/><path d="M402.2,356.7a1.3,1.1 0 0 1 2.6,0z" fill="#333"/>
<circle cx="406.7" cy="354.7" r="0.7" fill="#333"/><path d="M405.4,356.7a1.3,1.1 0 0 1 2.6,0z" fill="#333"/>
<rect x="398.5" y="357.6" width="10" height="1.1" fill="#333"/>
<circle cx="385.5" cy="410" r="10.5" fill="#fff" stroke="#999" stroke-width="0.7"/>
<circle cx="385.5" cy="410" r="8" fill="#fff" stroke="#333" stroke-width="1"/>
<circle cx="385.5" cy="410" r="5" fill="#3b3b3b"/>
<circle cx="385.5" cy="408.4" r="1.5" fill="#fff"/><path d="M382.8,412.5a2.8,2.3 0 0 1 5.5,0z" fill="#fff"/>
<circle cx="414" cy="386.6" r="3.5" fill="#3b3b3b"/>
<circle cx="414.0" cy="385.4" r="1.1" fill="#fff"/><path d="M412.1,388.3a1.9,1.6 0 0 1 3.9,0z" fill="#fff"/>
<circle cx="423.6" cy="320" r="4.5" fill="#3b3b3b"/>
<circle cx="423.6" cy="318.5" r="1.4" fill="#fff"/><path d="M421.1,322.2a2.5,2.1 0 0 1 5.0,0z" fill="#fff"/>
<circle cx="430.5" cy="341.6" r="2.3" fill="#3b3b3b"/>
<circle cx="450.4" cy="324.8" r="7.0" fill="none" stroke="#777" stroke-width="0.7"/>
<circle cx="450.4" cy="324.8" r="4.8" fill="#3b3b3b"/>
<circle cx="450.4" cy="323.2" r="1.5" fill="#fff"/><path d="M447.8,327.2a2.6,2.2 0 0 1 5.3,0z" fill="#fff"/>
<circle cx="453.2" cy="300.2" r="3.5" fill="#3b3b3b"/>
<circle cx="453.2" cy="299.0" r="1.1" fill="#fff"/><path d="M451.3,301.9a1.9,1.6 0 0 1 3.9,0z" fill="#fff"/>
<circle cx="481.2" cy="304.4" r="6.7" fill="none" stroke="#777" stroke-width="0.7"/>
<circle cx="481.2" cy="304.4" r="4.5" fill="#3b3b3b"/>
<circle cx="481.2" cy="302.9" r="1.4" fill="#fff"/><path d="M478.7,306.6a2.5,2.1 0 0 1 5.0,0z" fill="#fff"/>
<circle cx="512.6" cy="304.4" r="3" fill="#3b3b3b"/>
<circle cx="512.6" cy="303.4" r="0.9" fill="#fff"/><path d="M511.0,305.9a1.7,1.4 0 0 1 3.3,0z" fill="#fff"/>
<circle cx="551.2" cy="295.2" r="11.0" fill="#fff" stroke="#999" stroke-width="0.7"/>
<circle cx="551.2" cy="295.2" r="8.5" fill="#fff" stroke="#333" stroke-width="1"/>
<circle cx="551.2" cy="295.2" r="5.5" fill="#3b3b3b"/>
<circle cx="551.2" cy="293.4" r="1.7" fill="#fff"/><path d="M548.2,297.9a3.0,2.5 0 0 1 6.1,0z" fill="#fff"/>
<circle cx="548.2" cy="319.8" r="2.6" fill="#3b3b3b"/>
<circle cx="526.6" cy="331" r="4.5" fill="#3b3b3b"/>
<circle cx="526.6" cy="329.5" r="1.4" fill="#fff"/><path d="M524.1,333.2a2.5,2.1 0 0 1 5.0,0z" fill="#fff"/>
<circle cx="559.6" cy="342.2" r="5.7" fill="none" stroke="#777" stroke-width="0.7"/>
<circle cx="559.6" cy="342.2" r="3.5" fill="#3b3b3b"/>
<circle cx="559.6" cy="341.0" r="1.1" fill="#fff"/><path d="M557.7,343.9a1.9,1.6 0 0 1 3.9,0z" fill="#fff"/>
<circle cx="537" cy="344.4" r="1.6" fill="#3b3b3b"/>
<circle cx="516.8" cy="345.6" r="6" fill="#fff" stroke="#777" stroke-width="0.8"/>
<circle cx="516.8" cy="345.6" r="3" fill="#e8e8e8" stroke="#444" stroke-width="0.8"/>
<circle cx="516.8" cy="344.6" r="0.9" fill="#444"/><path d="M515.1,347.1a1.7,1.4 0 0 1 3.3,0z" fill="#444"/>
<circle cx="529.4" cy="365.2" r="10.5" fill="#fff" stroke="#999" stroke-width="0.7"/>
<circle cx="529.4" cy="365.2" r="8" fill="#fff" stroke="#333" stroke-width="1"/>
<circle cx="529.4" cy="365.2" r="5" fill="#3b3b3b"/>
<circle cx="529.4" cy="363.6" r="1.5" fill="#fff"/><path d="M526.6,367.7a2.8,2.3 0 0 1 5.5,0z" fill="#fff"/>
<circle cx="513.4" cy="389.8" r="7" fill="#3b3b3b"/>
<circle cx="513.4" cy="387.5" r="2.2" fill="#fff"/><path d="M509.5,393.3a3.9,3.2 0 0 1 7.7,0z" fill="#fff"/>
<circle cx="484" cy="338" r="12" fill="none" stroke="#555" stroke-width="0.8"/>
<circle cx="484" cy="338" r="9" fill="#5a5a5a"/>
<circle cx="479.8" cy="336.0" r="1.0" fill="#222"/><path d="M478.1,338.5a1.7,1.4 0 0 1 3.4,0z" fill="#222"/>
<circle cx="484.0" cy="336.0" r="1.0" fill="#222"/><path d="M482.3,338.5a1.7,1.4 0 0 1 3.4,0z" fill="#222"/>
<circle cx="488.2" cy="336.0" r="1.0" fill="#222"/><path d="M486.5,338.5a1.7,1.4 0 0 1 3.4,0z" fill="#222"/>
<rect x="477.5" y="340" width="13" height="1.3" fill="#222"/>
<circle cx="451.8" cy="353.4" r="3" fill="#3b3b3b"/>
<circle cx="451.8" cy="352.4" r="0.9" fill="#fff"/><path d="M450.2,354.9a1.7,1.4 0 0 1 3.3,0z" fill="#fff"/>
<circle cx="470" cy="370.2" r="3" fill="#3b3b3b"/>
<circle cx="470.0" cy="369.2" r="0.9" fill="#fff"/><path d="M468.4,371.7a1.7,1.4 0 0 1 3.3,0z" fill="#fff"/>
<circle cx="492.4" cy="375.8" r="3.2" fill="#3b3b3b"/>
<circle cx="492.4" cy="374.7" r="1.0" fill="#fff"/><path d="M490.6,377.4a1.8,1.5 0 0 1 3.5,0z" fill="#fff"/>
<circle cx="446.2" cy="381.4" r="11.5" fill="#fff" stroke="#999" stroke-width="0.7"/>
<circle cx="446.2" cy="381.4" r="9" fill="#fff" stroke="#333" stroke-width="1"/>
<circle cx="446.2" cy="381.4" r="6" fill="#3b3b3b"/>
<circle cx="446.2" cy="379.4" r="1.8" fill="#fff"/><path d="M442.9,384.4a3.3,2.8 0 0 1 6.6,0z" fill="#fff"/>
<circle cx="475.6" cy="392.6" r="2.5" fill="#3b3b3b"/>
<circle cx="513.4" cy="318.4" r="2" fill="#3b3b3b"/>
<circle cx="481.2" cy="289" r="1.8" fill="#3b3b3b"/>
<circle cx="441.4" cy="398.2" r="1.5" fill="#3b3b3b"/>
<circle cx="511.2" cy="360.4" r="1.6" fill="#3b3b3b"/>
</svg>
<!--/GLOBE-->
<!-- line chart -->
<svg class="a" style="left:0;top:0" width="1000" height="500" id="linechart">
  <g stroke="#cfd2d6" stroke-width="1.2">
    <line x1="603" y1="319.5" x2="790" y2="319.5"/><line x1="603" y1="333.5" x2="790" y2="333.5"/>
    <line x1="603" y1="348" x2="790" y2="348"/><line x1="603" y1="362" x2="790" y2="362"/>
    <line x1="603" y1="376.5" x2="790" y2="376.5"/><line x1="603" y1="390.5" x2="790" y2="390.5"/>
    <line x1="603" y1="404.5" x2="790" y2="404.5"/><line x1="603" y1="418.5" x2="790" y2="418.5"/>
  </g>
  <polyline points="615.6,407 642.6,373.4 669.6,344.9 696,328 723,350.6 749.4,339 776.4,350.9" fill="none" stroke="#0c0c78" stroke-width="5" stroke-linejoin="round"/>
  <g fill="#0c0c78">
    <circle cx="615.6" cy="407" r="5"/><circle cx="642.6" cy="373.4" r="5"/><circle cx="669.6" cy="344.9" r="5"/>
    <circle cx="696" cy="328" r="5"/><circle cx="723" cy="350.6" r="5"/><circle cx="749.4" cy="339" r="5"/><circle cx="776.4" cy="350.9" r="5"/>
  </g>
  <circle cx="615.6" cy="401.6" r="4.5" fill="#9a7ad6"/>
</svg>

<!-- donut -->
<svg class="a" style="left:0;top:0" width="1000" height="500" id="donut"><g stroke="#fff" stroke-width="0.35" stroke-opacity="0.8">
<path d="M909.3,319.5A49.5,49.5 0 0 1 916.2,320.0L912.8,344.2A25,25 0 0 0 909.3,344.0Z" fill="#0c0c72"/>
<path d="M916.2,320.0A49.5,49.5 0 0 1 944.9,334.6L927.3,351.6A25,25 0 0 0 912.8,344.2Z" fill="#9474d0"/>
<path d="M944.9,334.6A49.5,49.5 0 0 1 956.6,383.5L933.2,376.3A25,25 0 0 0 927.3,351.6Z" fill="#cd8de0"/>
<path d="M956.6,383.5A49.5,49.5 0 0 1 909.3,418.5L909.3,394.0A25,25 0 0 0 933.2,376.3Z" fill="#e38cbd"/>
<path d="M909.3,418.5A49.5,49.5 0 0 1 866.4,393.8L887.6,381.5A25,25 0 0 0 909.3,394.0Z" fill="#f7a7c1"/>
<path d="M866.4,393.8A49.5,49.5 0 0 1 868.8,340.6L888.8,354.7A25,25 0 0 0 887.6,381.5Z" fill="#f59e86"/>
<path d="M868.8,340.6A49.5,49.5 0 0 1 909.3,319.5L909.3,344.0A25,25 0 0 0 888.8,354.7Z" fill="#eb9d57"/>
</g></svg>

<!-- buttons -->
<div class="btn" style="left:79px;width:176px;background:#1d2d5e"><span>North America</span></div>
<div class="btn" style="left:266px;width:171px;background:linear-gradient(90deg,#522f93,#4d2c8c)"><span>Europe</span></div>
<div class="btn" style="left:447px;width:171px;background:#504ca7"><span>Asia-Pacific</span></div>
<div class="btn" style="left:629px;width:170px;background:#7c7adc"><span>Latin America</span></div>
<div class="btn" style="left:810px;width:170px;background:#9f9ce2"><span>Africa</span></div>

</body></html>
